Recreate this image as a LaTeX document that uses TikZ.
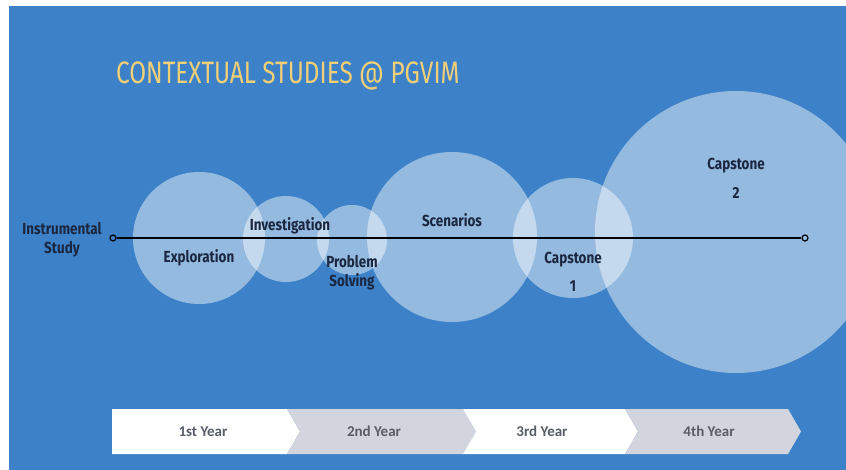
\documentclass[tikz,border=0pt]{standalone}
\usepackage{fontspec}
\usepackage{tikz}
\usetikzlibrary{positioning}
\newfontfamily\titlefont[FakeStretch=0.785]{Fira Sans}
\newfontfamily\labelfont[FakeStretch=0.84]{Fira Sans Bold}
\newfontfamily\yearfont{Carlito Bold}
\definecolor{slideblue}{HTML}{3D82C8}
\definecolor{titleyellow}{HTML}{F0CF76}
\definecolor{labelnavy}{HTML}{1B2740}
\definecolor{yeargrey}{HTML}{D3D5DE}
\definecolor{yeartext}{HTML}{585C66}

\begin{document}
\begin{tikzpicture}[x=1pt,y=-1pt]
	\tikzstyle{bubble}=[circle,fill=white,fill opacity=0.45,inner sep=0pt]
	\tikzstyle{lbl}=[text=labelnavy,font=\labelfont\fontsize{16}{19}\selectfont,align=center]
	\tikzstyle{endpt}=[circle,draw=black,line width=1.2pt,inner sep=0pt,minimum size=6pt]
	\tikzstyle{yearlbl}=[text=yeartext,font=\yearfont\fontsize{15}{17}\selectfont]
	\useasboundingbox (0,0) rectangle (846,470);
	\clip (0,0) rectangle (846,470);
	\fill[white] (0,0) rectangle (846,470);
	\fill[slideblue] (9,6) rectangle (846,470);
		% title
		\node[anchor=base west,text=titleyellow,font=\titlefont\fontsize{31}{34}\selectfont,inner sep=0pt] (title) at (116,84) {CONTEXTUAL STUDIES @ PGVIM};
		% bubbles
		\node[bubble, minimum size=132pt] (explo) at (199,238) {};
		\node[bubble, minimum size=86pt] (invest) at (286,239) {};
		\node[bubble, minimum size=70pt] (probl) at (352,240) {};
		\node[bubble, minimum size=170pt] (scen) at (452,237) {};
		\node[bubble, minimum size=120pt] (capa) at (573,238) {};
		\node[bubble, minimum size=282pt] (capb) at (736,232) {};
		% timeline
		\node[endpt] (start) at (113,238) {};
		\node[endpt] (end) at (805,238) {};
			\draw[line width=1.8pt] (start) -- (end);
		% labels
		\node[lbl] (instr) at (62,240) {Instrumental\\Study};
		\node[lbl] (explot) at (199,258) {Exploration};
		\node[lbl] (investt) at (290,226) {Investigation};
		\node[lbl] (problt) at (352,273) {Problem\\Solving};
		\node[lbl] (scent) at (452,220) {Scenarios};
		\node[lbl] (capat) at (573,272) {Capstone\\[9pt]1};
		\node[lbl] (capbt) at (736,178) {Capstone\\[10pt]2};
		% years
		\fill[white] (112,409) -- (287,409) -- (300,431.5) -- (287,454) -- (112,454) -- cycle;
		\fill[yeargrey] (287,409) -- (463,409) -- (476,431.5) -- (463,454) -- (287,454) -- (300,431.5) -- cycle;
		\fill[white] (463,409) -- (625,409) -- (638,431.5) -- (625,454) -- (463,454) -- (476,431.5) -- cycle;
		\fill[yeargrey] (625,409) -- (788,409) -- (801,431.5) -- (788,454) -- (625,454) -- (638,431.5) -- cycle;
			\node[yearlbl] (y1) at (203,431.5) {1st Year};
			\node[yearlbl] (y2) at (374,431.5) {2nd Year};
			\node[yearlbl] (y3) at (542,431.5) {3rd Year};
			\node[yearlbl] (y4) at (709,431.5) {4th Year};
\end{tikzpicture}
\end{document}
